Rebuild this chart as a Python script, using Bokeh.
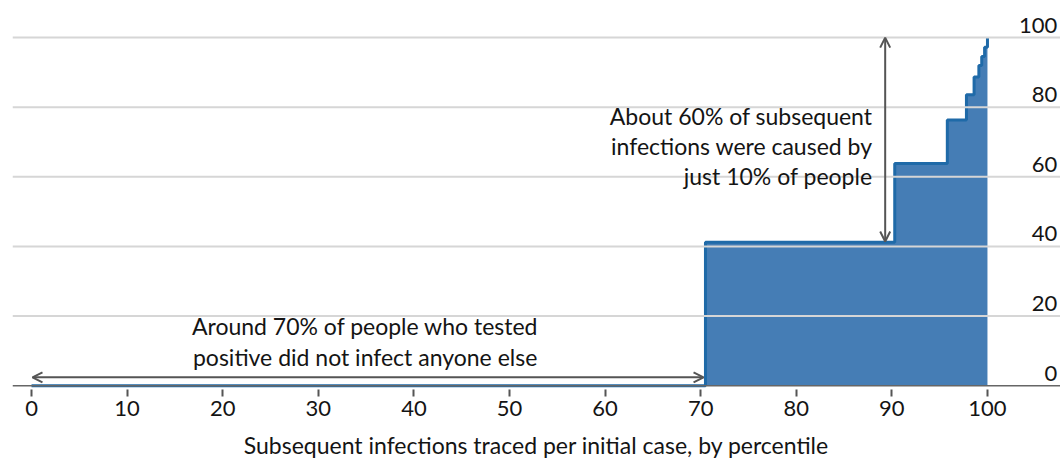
from bokeh.plotting import figure
from bokeh.models import Label, Arrow, OpenHead, Span, FixedTicker
from bokeh.core.properties import value
from bokeh.embed import file_html
from bokeh.resources import INLINE

# ---- data ----
percentile_breaks = [0, 70.5, 90.3, 95.8, 97.8, 98.6, 99.1, 99.4, 99.7, 100]
cumulative_share = [0, 41.2, 63.8, 76.3, 83.6, 88.7, 92.0, 94.6, 97.2, 100]
x_ticks = [0, 10, 20, 30, 40, 50, 60, 70, 80, 90, 100]
y_ticks = [0, 20, 40, 60, 80, 100]
y_tick_labels = ["0", "20", "40", "60", "80", "100"]
note_top = ["About 60% of subsequent", "infections were caused by", "just 10% of people"]
note_bottom = ["Around 70% of people who tested", "positive did not infect anyone else"]
x_title = "Subsequent infections traced per initial case, by percentile"

FONT = "Lato"
BLUE_FILL = "#457db5"
BLUE_LINE = "#1f6aa8"
GRID = "#d6d6d6"
DARK = "#141414"
ARROW = "#555555"

# ---- step outline built from data ----
sx, sy = [], []
for i in range(len(percentile_breaks) - 1):
    sx += [percentile_breaks[i], percentile_breaks[i + 1]]
    sy += [cumulative_share[i], cumulative_share[i]]
sx.append(percentile_breaks[-1])
sy.append(cumulative_share[-1])
px = sx + [percentile_breaks[-1], percentile_breaks[0]]
py = sy + [0, 0]

p = figure(width=1060, height=461, output_backend="svg", toolbar_location=None,
           x_range=(-1.99, 107.64), y_range=(-1.1, 110.66),
           y_axis_location=None, min_border_left=12, min_border_right=0,
           min_border_top=0, min_border_bottom=0)
p.outline_line_color = None
p.background_fill_color = "white"
p.border_fill_color = "white"
p.xgrid.grid_line_color = None
p.ygrid.grid_line_color = None

# horizontal gridlines
for v in y_ticks[1:]:
    p.add_layout(Span(location=v, dimension="width", line_color=GRID, line_width=2))
# baseline
p.add_layout(Span(location=0, dimension="width", line_color="#666666", line_width=1.5))

# area
p.patch(px, py, fill_color=BLUE_FILL, line_color=None)
p.line(sx, sy, line_color=BLUE_LINE, line_width=3)

# y labels on right
p.text(x=[107.3] * len(y_ticks), y=y_ticks, text=y_tick_labels,
       text_align="right", text_baseline="bottom", y_offset=-5,
       text_font=value(FONT), text_font_size="22px", text_color=DARK)

# x axis
xa = p.xaxis[0]
xa.ticker = FixedTicker(ticks=x_ticks)
xa.axis_line_color = None
xa.major_tick_line_color = "#555555"
xa.major_tick_line_width = 2
xa.major_tick_out = 7
xa.major_tick_in = 0
xa.minor_tick_line_color = None
xa.major_label_text_font = FONT
xa.major_label_text_font_size = "22px"
xa.major_label_text_color = DARK
xa.major_label_standoff = 4
xa.axis_label = x_title
xa.axis_label_text_font = FONT
xa.axis_label_text_font_style = "normal"
xa.axis_label_text_font_size = "23px"
xa.axis_label_text_color = DARK
xa.axis_label_standoff = 12

# annotation labels: white backgrounds first, then text
top_baselines = [77.5, 68.9, 60.2]
bot_baselines = [17.0, 8.36]
specs = [(t, 87.97, yb, "right", 10) for t, yb in zip(note_top, top_baselines)] + \
        [(t, 34.9, yb, "center", 9) for t, yb in zip(note_bottom, bot_baselines)]
for t, x, yb, al, pad in specs:
    p.add_layout(Label(x=x, y=yb, text=t, text_align=al, text_baseline="alphabetic",
                       text_font=FONT, text_font_size="23px", text_alpha=0,
                       background_fill_color="white", border_line_color=None,
                       padding=pad))
for t, x, yb, al, pad in specs:
    p.add_layout(Label(x=x, y=yb, text=t, text_align=al, text_baseline="alphabetic",
                       text_font=FONT, text_font_size="23px", text_color=DARK))

# arrows
p.add_layout(Arrow(x_start=89.3, y_start=41.4, x_end=89.3, y_end=100,
                   start=OpenHead(size=10, line_color=ARROW, line_width=2),
                   end=OpenHead(size=10, line_color=ARROW, line_width=2),
                   line_color=ARROW, line_width=2))
p.add_layout(Arrow(x_start=0.1, y_start=2.4, x_end=70.3, y_end=2.4,
                   start=OpenHead(size=10, line_color=ARROW, line_width=2),
                   end=OpenHead(size=10, line_color=ARROW, line_width=2),
                   line_color=ARROW, line_width=2))

open("out.html", "w").write(file_html(p, INLINE))
